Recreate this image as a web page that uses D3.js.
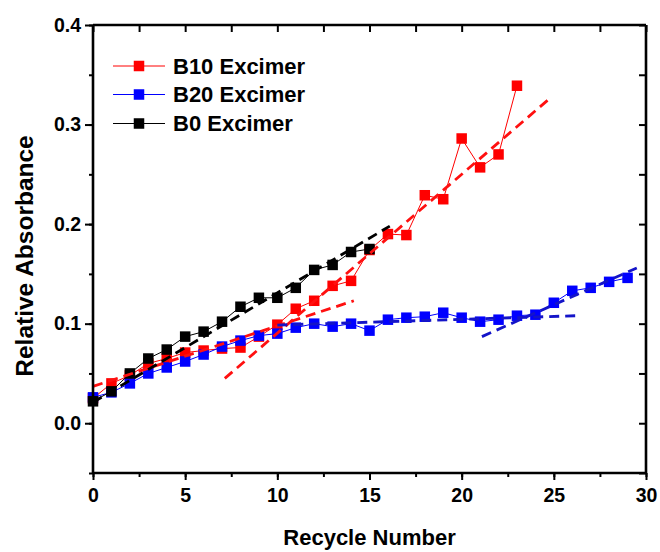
<!DOCTYPE html>
<html>
<head>
<meta charset="utf-8">
<script src="https://cdn.jsdelivr.net/npm/d3@7"></script>
<style>
  html, body { margin: 0; padding: 0; background: #fff; }
  svg { display: block; font-family: "Liberation Sans", Arial, sans-serif; font-weight: bold; }
</style>
</head>
<body>
<svg id="chart" width="660" height="552"></svg>
<script>
// Relative absorbance vs. recycle number for three excimer samples
const b10Cycles = d3.range(0, 24);
const b10Values = [0.025, 0.040, 0.048, 0.060, 0.065, 0.071, 0.073, 0.075, 0.076, 0.087,
                   0.099, 0.115, 0.123, 0.138, 0.143, 0.174, 0.190, 0.189, 0.229, 0.225,
                   0.286, 0.257, 0.270, 0.339];

const b20Cycles = d3.range(0, 30);
const b20Values = [0.026, 0.031, 0.040, 0.050, 0.056, 0.062, 0.069, 0.077, 0.083, 0.088,
                   0.090, 0.096, 0.100, 0.097, 0.100, 0.093, 0.104, 0.106, 0.107, 0.111,
                   0.106, 0.102, 0.104, 0.108, 0.109, 0.121, 0.133, 0.136, 0.142, 0.146];

const b0Cycles = d3.range(0, 16);
const b0Values = [0.022, 0.032, 0.050, 0.065, 0.074, 0.087, 0.092, 0.102, 0.117, 0.126,
                  0.126, 0.136, 0.154, 0.159, 0.172, 0.175];

// Linear trend segments: [x0, y0, x1, y1]
const b10Fits = [[0, 0.037, 14.15, 0.123], [7.15, 0.045, 24.7, 0.325]];
const b20Fits = [[10, 0.0986, 26.2, 0.108], [21.1, 0.087, 29.5, 0.156]];
const b0Fits  = [[0, 0.021, 16.1, 0.198]];

const xTicks = [0, 5, 10, 15, 20, 25, 30];
const yTicks = [0.0, 0.1, 0.2, 0.3, 0.4];
const legendNames = ["B10 Excimer", "B20 Excimer", "B0 Excimer"];

const svg = d3.select("#chart");
const m = { left: 93, top: 25, right: 646, bottom: 473 };

const x = d3.scaleLinear().domain([0, 30]).range([m.left, m.right]);
const y = d3.scaleLinear().domain([-0.05, 0.4]).range([m.bottom, m.top]);

const series = [
  { cycles: b10Cycles, values: b10Values, color: "#ff0000", fits: b10Fits, fitColor: "#ff1010" },
  { cycles: b20Cycles, values: b20Values, color: "#0000ff", fits: b20Fits, fitColor: "#1414c8" },
  { cycles: b0Cycles,  values: b0Values,  color: "#000000", fits: b0Fits,  fitColor: "#000000" }
];

const line = d3.line().x(d => x(d[0])).y(d => y(d[1]));
const ms = 10.5;

// series lines and markers (red underneath, black on top)
series.forEach(s => {
  const pts = s.cycles.map((c, i) => [c, s.values[i]]);
  svg.append("path").attr("d", line(pts)).attr("fill", "none")
    .attr("stroke", s.color).attr("stroke-width", 1);
  svg.append("g").selectAll("rect").data(pts).join("rect")
    .attr("x", d => x(d[0]) - ms / 2).attr("y", d => y(d[1]) - ms / 2)
    .attr("width", ms).attr("height", ms).attr("fill", s.color);
});

// trend lines
series.forEach(s => {
  s.fits.forEach(f => {
    svg.append("path").attr("d", line([[f[0], f[1]], [f[2], f[3]]]))
      .attr("fill", "none").attr("stroke", s.fitColor).attr("stroke-width", 2.8)
      .attr("stroke-dasharray", "10,6");
  });
});

// axes
const minorX = d3.range(0, 30.01, 2.5);
const minorY = d3.range(-0.05, 0.401, 0.05);

const gB = svg.append("g").attr("transform", `translate(0,${m.bottom})`)
  .call(d3.axisBottom(x).tickValues(minorX).tickSize(4).tickFormat(""));
const gB2 = svg.append("g").attr("transform", `translate(0,${m.bottom})`)
  .call(d3.axisBottom(x).tickValues(xTicks).tickSize(7).tickPadding(8).tickFormat(d3.format("d")));
const gL = svg.append("g").attr("transform", `translate(${m.left},0)`)
  .call(d3.axisLeft(y).tickValues(minorY).tickSize(4).tickFormat(""));
const gL2 = svg.append("g").attr("transform", `translate(${m.left},0)`)
  .call(d3.axisLeft(y).tickValues(yTicks).tickSize(8).tickPadding(4).tickFormat(d3.format(".1f")));
const gT = svg.append("g").attr("transform", `translate(0,${m.top})`)
  .call(d3.axisBottom(x).tickValues(minorX).tickSize(7).tickFormat(""));
const gR = svg.append("g").attr("transform", `translate(${m.right},0)`)
  .call(d3.axisLeft(y).tickValues(minorY).tickSize(7).tickFormat(""));

[gB, gB2, gL, gL2, gT, gR].forEach(g => {
  g.select(".domain").attr("stroke", "#000").attr("stroke-width", 2.6);
  g.selectAll(".tick line").attr("stroke", "#000").attr("stroke-width", 2);
  g.selectAll(".tick text").attr("fill", "#000")
    .style("font-size", "19.5px").style("font-weight", "bold")
    .style("font-family", "'Liberation Sans', Arial, sans-serif");
});
gB.select(".domain").attr("d", `M${m.left},0H${m.right}`);
gT.select(".domain").attr("d", `M${m.left},0H${m.right}`);
gL.select(".domain").attr("d", `M0,${m.bottom}V${m.top}`);
gR.select(".domain").attr("d", `M0,${m.bottom}V${m.top}`);
[gB2, gL2].forEach(g => g.select(".domain").remove());

// axis titles
svg.append("text").attr("x", (m.left + m.right) / 2).attr("y", 545)
  .attr("text-anchor", "middle").style("font-size", "22px").text("Recycle Number");
svg.append("text").attr("transform", `translate(33,${(m.top + m.bottom) / 2 + 7}) rotate(-90)`)
  .attr("text-anchor", "middle").style("font-size", "24.5px").text("Relative Absorbance");

// legend
const legendRows = [66, 94.5, 123.5];
series.forEach((s, i) => {
  const g = svg.append("g").attr("transform", `translate(0,${legendRows[i]})`);
  g.append("line").attr("x1", 113).attr("x2", 165).attr("y1", 0).attr("y2", 0)
    .attr("stroke", s.color).attr("stroke-width", 1);
  g.append("rect").attr("x", 139 - ms / 2).attr("y", -ms / 2)
    .attr("width", ms).attr("height", ms).attr("fill", s.color);
  g.append("text").attr("x", 173).attr("y", 0).attr("dy", "0.36em")
    .style("font-size", "22px").text(legendNames[i]);
});
</script>
</body>
</html>
